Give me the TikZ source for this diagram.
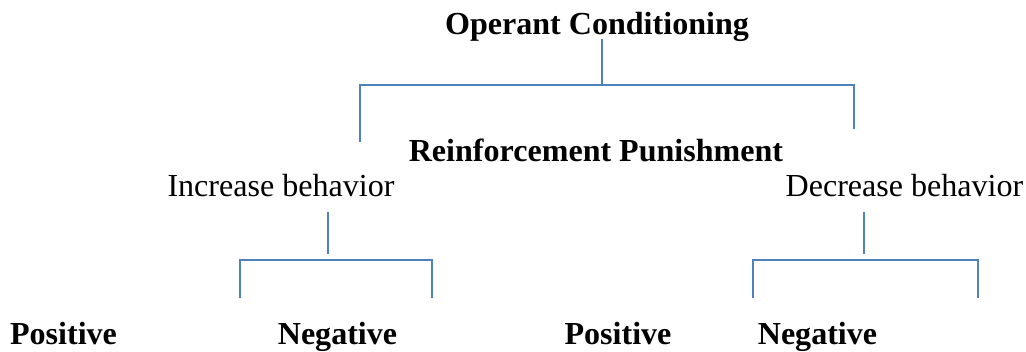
\documentclass[tikz,border=0pt]{standalone}
\usepackage{fontspec}
\setmainfont{Liberation Serif}
\usepackage{tikz}

\tikzset{
  txt/.style={anchor=base,inner sep=0pt,font=\fontsize{22.8}{27}\selectfont},
  btxt/.style={txt,font=\fontsize{22.8}{27}\selectfont\bfseries},
  bline/.style={draw={rgb,255:red,79;green,129;blue,189},line width=1.5pt}
}

\begin{document}
\begin{tikzpicture}[x=0.025cm,y=-0.025cm]
		\useasboundingbox (0,0) rectangle (1026,352);

		\node[btxt] (oc) at (597,35) {Operant Conditioning};
		\node[btxt] (rp) at (596,162) {Reinforcement Punishment};
		\node[txt] (inc) at (281,197) {Increase behavior};
		\node[txt] (dec) at (904.5,197) {Decrease behavior};
		\node[btxt] (pos1) at (63.5,345) {Positive};
		\node[btxt] (neg1) at (337.5,345) {Negative};
		\node[btxt] (pos2) at (618,345) {Positive};
		\node[btxt] (neg2) at (817.5,345) {Negative};

		\coordinate (oca) at (602,39);
		\coordinate (ocb) at (602,85);
		\coordinate (ocl) at (360,85);
		\coordinate (ocr) at (854,85);
		\coordinate (ocld) at (360,142);
		\coordinate (ocrd) at (854,129);

		\coordinate (inca) at (328,212);
		\coordinate (incb) at (328,254);
		\coordinate (incl) at (240,260);
		\coordinate (incr) at (432,260);
		\coordinate (incld) at (240,298);
		\coordinate (incrd) at (432,298);

		\coordinate (deca) at (864,212);
		\coordinate (decb) at (864,254);
		\coordinate (decl) at (753,260);
		\coordinate (decr) at (978,260);
		\coordinate (decld) at (753,298);
		\coordinate (decrd) at (978,298);

		\draw[bline] (oca) -- (ocb);
		\draw[bline] (ocld) -- (ocl) -- (ocr) -- (ocrd);

		\draw[bline] (inca) -- (incb);
		\draw[bline] (incld) -- (incl) -- (incr) -- (incrd);

		\draw[bline] (deca) -- (decb);
		\draw[bline] (decld) -- (decl) -- (decr) -- (decrd);
	\end{tikzpicture}
\end{document}
